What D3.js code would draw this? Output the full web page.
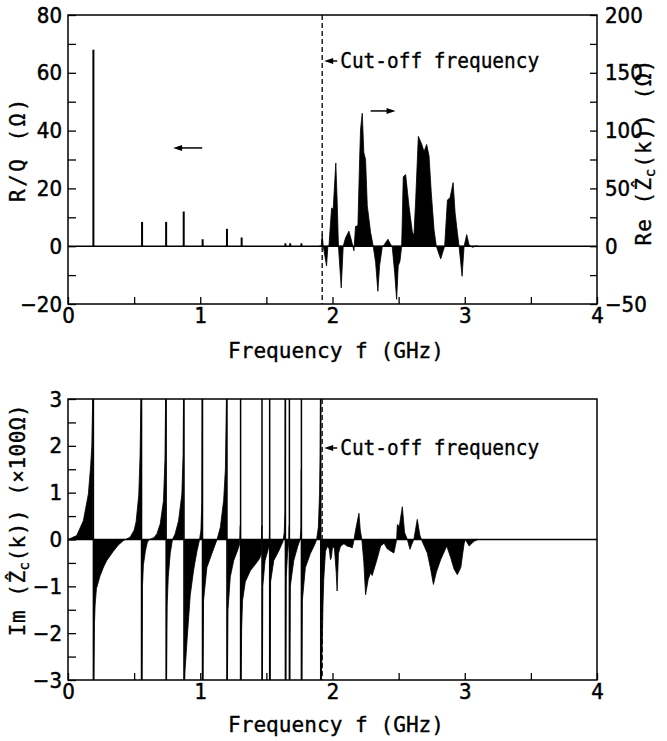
<!DOCTYPE html>
<html>
<head>
<meta charset="utf-8">
<script src="https://cdn.jsdelivr.net/npm/d3@7"></script>
<style>
    body { margin: 0; background: #fff; }
    svg { display: block; }
    .tick text { font-family: 'Liberation Sans Narrow', 'DejaVu Sans Condensed', 'Roboto Condensed', sans-serif; font-stretch: condensed; font-size: 22px; fill: #000; stroke: #000; stroke-width: 0.5; }
    .tick line { stroke: #000; stroke-width: 1.3; }
    .label { font-family: 'DejaVu Sans Mono', monospace; font-size: 21px; fill: #000; stroke: #000; stroke-width: 0.35; }
</style>
</head>
<body>
<svg width="667" height="741"></svg>
<script>
// axis ticks and labels
const freqTicks = [0, 0.5, 1, 1.5, 2, 2.5, 3, 3.5, 4]
const freqLabels = [0, 1, 2, 3, 4]
const rqTicks = [-20, -10, 0, 10, 20, 30, 40, 50, 60, 70, 80]
const rqLabels = [-20, 0, 20, 40, 60, 80]
const reTicks = [-50, -25, 0, 25, 50, 75, 100, 125, 150, 175, 200]
const reLabels = [-50, 0, 50, 100, 150, 200]
const imTicks = [-3, -2.5, -2, -1.5, -1, -0.5, 0, 0.5, 1, 1.5, 2, 2.5, 3]
const imLabels = [-3, -2, -1, 0, 1, 2, 3]

const cutoff = 1.922

// R/Q of the trapped modes (GHz, ohm)
const rqFreq = [0.192, 0.56, 0.742, 0.875, 1.018, 1.202, 1.313, 1.644, 1.68, 1.765]
const rqValue = [68, 8.4, 8.4, 12, 2.4, 6, 3, 1, 1, 1]

// Re(Zc(k)) above the cut-off (GHz, ohm)
const reData = [
    [1.90, 0], [1.915, 0], [1.922, 10], [1.93, 0], [1.955, -17], [1.965, 0], [1.973, 0],
    [1.993, 33], [2.005, 32], [2.025, 72], [2.035, 40], [2.045, 0], [2.066, -36], [2.081, 0],
    [2.098, 7], [2.124, 13], [2.141, 6], [2.162, -4], [2.174, 17], [2.192, 18], [2.205, 75],
    [2.212, 101], [2.225, 115], [2.237, 81], [2.25, 75], [2.263, 35], [2.288, 12], [2.308, 0],
    [2.326, -14], [2.343, -39], [2.356, -17], [2.376, -1], [2.395, 2], [2.419, 6], [2.452, -1],
    [2.47, -23], [2.485, -46], [2.497, -17], [2.51, -13], [2.523, 0], [2.535, 60], [2.553, 62],
    [2.578, 35], [2.604, 12], [2.616, 10], [2.629, 40], [2.649, 95], [2.672, 89], [2.692, 82],
    [2.712, 88], [2.73, 78], [2.747, 46], [2.768, 14], [2.785, 0], [2.818, -11], [2.848, 0],
    [2.869, 40], [2.889, 42], [2.912, 55], [2.927, 29], [2.944, 12], [2.957, 0], [2.98, -26],
    [2.995, 0], [3.015, 10], [3.033, 1], [3.058, -1], [3.083, 0], [3.1, 0]
]

// poles of Im(Zc(k)) (GHz)
const poles = [0.192, 0.556, 0.742, 0.877, 1.017, 1.202, 1.305, 1.467, 1.525, 1.644, 1.674, 1.765, 1.911]

// Im(Zc(k)) (GHz, x100 ohm)
const imData = [
    [0, 0], [0.066, 0.085], [0.116, 0.4], [0.154, 0.97], [0.172, 1.6], [0.18, 2.0], [0.188, 3.2],
    [0.195, -3.2], [0.2, -1.8], [0.205, -1.4], [0.215, -1.05], [0.242, -0.78], [0.27, -0.58], [0.293, -0.45],
    [0.343, -0.25], [0.38, -0.12], [0.42, -0.02], [0.435, 0], [0.47, 0.05], [0.5, 0.2], [0.515, 0.38],
    [0.535, 0.95], [0.545, 1.8], [0.553, 3.2],
    [0.559, -3.2], [0.563, -1.0], [0.57, -0.55], [0.585, -0.25], [0.6, -0.06], [0.615, 0], [0.65, 0.04],
    [0.672, 0.12], [0.697, 0.33], [0.722, 0.83], [0.733, 1.7], [0.739, 3.2],
    [0.745, -3.2], [0.75, -1.4], [0.758, -0.8], [0.773, -0.3], [0.79, 0], [0.81, 0.12], [0.836, 0.4],
    [0.861, 0.97], [0.87, 1.8], [0.874, 3.2],
    [0.88, -3.2], [0.885, -2.8], [0.899, -2.2], [0.924, -1.2], [0.95, -0.65], [0.975, -0.25], [0.995, 0],
    [1.005, 0.2], [1.012, 0.8], [1.015, 3.2],
    [1.02, -3.2], [1.025, -1.3], [1.05, -0.6], [1.088, -0.3], [1.127, 0], [1.152, 0.26], [1.177, 0.84],
    [1.19, 1.5], [1.199, 3.2],
    [1.205, -3.2], [1.21, -1.5], [1.227, -0.8], [1.253, -0.45], [1.28, -0.25], [1.298, -0.1], [1.303, 0.3],
    [1.308, -3.2], [1.313, -1.9], [1.32, -1.3], [1.341, -0.9], [1.38, -0.66], [1.42, -0.52], [1.45, -0.4],
    [1.462, -0.3], [1.466, 0.3],
    [1.47, -3.2], [1.473, -1.0], [1.49, -0.45], [1.51, -0.25], [1.522, -0.1], [1.524, 0.3],
    [1.528, -3.2], [1.532, -0.9], [1.556, -0.45], [1.593, -0.25], [1.625, -0.05], [1.635, 0.15],
    [1.641, 0.6], [1.643, 3.2],
    [1.647, -3.2], [1.65, -0.8], [1.66, -0.3], [1.67, -0.05], [1.673, 0.3],
    [1.677, -3.2], [1.681, -1.0], [1.707, -0.45], [1.737, -0.15], [1.755, 0], [1.762, 0.25], [1.764, 1.5],
    [1.768, -3.2], [1.772, -1.3], [1.795, -0.6], [1.833, -0.3], [1.87, -0.08], [1.88, 0], [1.893, 0.26],
    [1.902, 0.98], [1.906, 1.8], [1.909, 3.2],
    [1.914, -3.2], [1.922, -2.3], [1.928, -1.4], [1.934, -0.84], [1.947, -0.25], [1.96, -0.15],
    [1.975, -0.2], [1.985, -0.43], [1.992, -0.38], [2.0, -0.15], [2.015, -0.2], [2.028, -0.7],
    [2.035, -1.1], [2.045, -0.3], [2.06, -0.15], [2.086, -0.09], [2.11, -0.14], [2.136, -0.16],
    [2.149, -0.18], [2.16, -0.05], [2.174, 0.19], [2.2, 0.56], [2.21, 0.2], [2.222, 0], [2.237, -0.49],
    [2.25, -1.18], [2.27, -0.85], [2.288, -0.71], [2.3, -0.77], [2.338, -0.41], [2.364, -0.14],
    [2.39, -0.08], [2.414, -0.2], [2.464, -0.29], [2.478, -0.1], [2.485, 0], [2.49, 0.32], [2.505, 0.28],
    [2.528, 0.7], [2.545, 0.15], [2.566, 0], [2.586, -0.21], [2.6, -0.1], [2.615, 0], [2.641, 0.43],
    [2.66, 0.1], [2.672, 0], [2.717, -0.29], [2.74, -0.6], [2.763, -0.96], [2.785, -0.7], [2.818, -0.43],
    [2.864, -0.14], [2.894, -0.39], [2.919, -0.63], [2.944, -0.75], [2.97, -0.6], [2.995, -0.09],
    [3.005, 0], [3.033, -0.14], [3.07, -0.04], [3.1, 0], [4, 0]
]

const svg = d3.select('svg')
const left = 68
const right = 597

const x = d3.scaleLinear().domain([0, 4]).range([left, right])

function frame(g, y0, y1) {
    g.append('rect')
        .attr('x', left).attr('y', y0)
        .attr('width', right - left).attr('height', y1 - y0)
        .attr('fill', 'none').attr('stroke', '#000').attr('stroke-width', 1.5)
}

function onlyLabels(labels, fmt) {
    return d => labels.includes(d) ? fmt(d) : ''
}

function xAxis(g, y0) {
    g.append('g')
        .attr('transform', `translate(0,${y0})`)
        .call(d3.axisBottom(x).tickValues(freqTicks).tickSize(-7).tickPadding(3)
            .tickFormat(onlyLabels(freqLabels, d3.format('d'))))
        .call(a => a.select('.domain').remove())
}

function cutoffLine(g, y0, y1) {
    g.append('line')
        .attr('x1', x(cutoff)).attr('x2', x(cutoff))
        .attr('y1', y0).attr('y2', y1)
        .attr('stroke', '#000').attr('stroke-width', 1.3)
        .attr('stroke-dasharray', '5,3')
}

function arrow(g, xa, xb, y) {
    // line from xa to xb, head at xb
    const dir = Math.sign(xb - xa)
    g.append('line')
        .attr('x1', xa).attr('x2', xb - dir * 6).attr('y1', y).attr('y2', y)
        .attr('stroke', '#000').attr('stroke-width', 1.5)
    g.append('path')
        .attr('d', `M${xb},${y}L${xb - dir * 9},${y - 3}L${xb - dir * 9},${y + 3}Z`)
        .attr('fill', '#000')
}

function cutoffNote(g, y) {
    arrow(g, x(cutoff) + 15, x(cutoff) + 2, y - 7)
    g.append('text').attr('class', 'label')
        .attr('x', x(cutoff) + 18).attr('y', y)
        .attr('textLength', 199).attr('lengthAdjust', 'spacingAndGlyphs')
        .text('Cut-off frequency')
}

function zLabel(g, cx, cy, spacing, pre, post) {
    const t = g.append('text').attr('class', 'label')
        .attr('transform', `translate(${cx},${cy}) rotate(-90)`)
        .attr('text-anchor', 'middle')
        .attr('letter-spacing', spacing)
    t.append('tspan').text(pre + '(\u1E90')
    t.append('tspan').attr('font-size', 14).attr('dy', 4).text('c')
    t.append('tspan').attr('dy', -4).text('(k))' + post)
    return t
}

function freqLabel(g, y) {
    g.append('text').attr('class', 'label')
        .attr('x', 228).attr('y', y)
        .attr('textLength', 216).attr('lengthAdjust', 'spacingAndGlyphs')
        .text('Frequency f (GHz)')
}

// ---------- top chart ----------
const top0 = 15
const top1 = 304
const yRq = d3.scaleLinear().domain([-20, 80]).range([top1, top0])
const yRe = d3.scaleLinear().domain([-50, 200]).range([top1, top0])
const gTop = svg.append('g')

gTop.append('path')
    .datum(reData)
    .attr('d', d3.area().x(d => x(d[0])).y0(yRe(0)).y1(d => yRe(d[1])))
    .attr('fill', '#000').attr('stroke', '#000').attr('stroke-width', 0.8)

gTop.selectAll('line.rq')
    .data(rqFreq.map((f, i) => [f, rqValue[i]]))
    .join('line').attr('class', 'rq')
    .attr('x1', d => x(d[0])).attr('x2', d => x(d[0]))
    .attr('y1', yRq(0)).attr('y2', d => yRq(d[1]))
    .attr('stroke', '#000').attr('stroke-width', 2)

gTop.append('line')
    .attr('x1', left).attr('x2', right).attr('y1', yRq(0)).attr('y2', yRq(0))
    .attr('stroke', '#000').attr('stroke-width', 1.5)

cutoffLine(gTop, top0, top1)
frame(gTop, top0, top1)

gTop.append('g')
    .attr('transform', `translate(${left},0)`)
    .call(d3.axisLeft(yRq).tickValues(rqTicks).tickSize(-8).tickPadding(6)
        .tickFormat(onlyLabels(rqLabels, d3.format('d'))))
    .call(a => a.select('.domain').remove())

gTop.append('g')
    .attr('transform', `translate(${right},0)`)
    .call(d3.axisRight(yRe).tickValues(reTicks).tickSize(-7).tickPadding(8)
        .tickFormat(onlyLabels(reLabels, d3.format('d'))))
    .call(a => a.select('.domain').remove())

xAxis(gTop, top1)

arrow(gTop, x(1.015), x(0.795), yRq(34))
arrow(gTop, x(2.288), x(2.477), yRe(117))
cutoffNote(gTop, 68)
freqLabel(gTop, 358)

gTop.append('text').attr('class', 'label')
    .attr('transform', 'translate(25,149) rotate(-90)')
    .attr('text-anchor', 'middle')
    .attr('letter-spacing', 2.5)
    .text('R/Q (\u03A9)')

zLabel(gTop, 651, 152, 1, 'Re ', '  (\u03A9)')

// ---------- bottom chart ----------
const bot0 = 399
const bot1 = 680
const yIm = d3.scaleLinear().domain([-3, 3]).range([bot1, bot0])
const gBot = svg.append('g')

svg.append('clipPath').attr('id', 'clipBot')
    .append('rect')
    .attr('x', left).attr('y', bot0).attr('width', right - left).attr('height', bot1 - bot0)

const plot = gBot.append('g').attr('clip-path', 'url(#clipBot)')

// split the reactance curve at the poles
const edges = [0, ...poles, 4]
const pieces = d3.pairs(edges).map(([a, b]) => imData.filter(d => d[0] >= a && d[0] <= b))

const imArea = d3.area().x(d => x(d[0])).y0(yIm(0)).y1(d => yIm(d[1]))
plot.selectAll('path.im')
    .data(pieces)
    .join('path').attr('class', 'im')
    .attr('d', imArea)
    .attr('fill', '#000').attr('stroke', '#000').attr('stroke-width', 0.8)

plot.selectAll('line.pole')
    .data(poles)
    .join('line').attr('class', 'pole')
    .attr('x1', d => x(d)).attr('x2', d => x(d))
    .attr('y1', bot0).attr('y2', bot1)
    .attr('stroke', '#000').attr('stroke-width', 1.5)

gBot.append('line')
    .attr('x1', left).attr('x2', right).attr('y1', yIm(0)).attr('y2', yIm(0))
    .attr('stroke', '#000').attr('stroke-width', 1.5)

cutoffLine(gBot, bot0, bot1)
frame(gBot, bot0, bot1)

gBot.append('g')
    .attr('transform', `translate(${left},0)`)
    .call(d3.axisLeft(yIm).tickValues(imTicks).tickSize(-8).tickPadding(6)
        .tickFormat(onlyLabels(imLabels, d3.format('d'))))
    .call(a => a.select('.domain').remove())

xAxis(gBot, bot1)

cutoffNote(gBot, 455)
freqLabel(gBot, 732)

zLabel(gBot, 25, 520, 0.5, 'Im ', '  (\u00D7100\u03A9)')
</script>
</body>
</html>
